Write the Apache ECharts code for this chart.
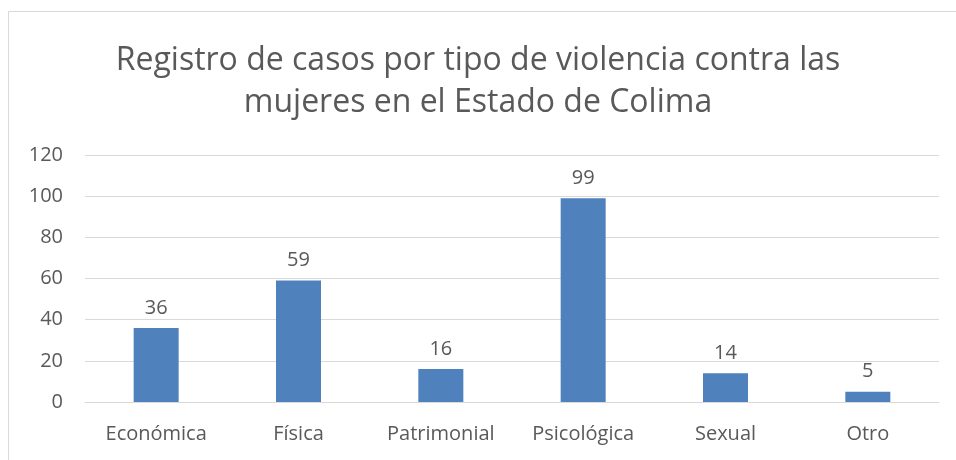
<!DOCTYPE html>
<html>
<head>
<meta charset="utf-8">
<script src="https://cdn.jsdelivr.net/npm/echarts@6/dist/echarts.min.js"></script>
<style>
  html, body { margin: 0; padding: 0; background: #fff; }
  #chart { width: 956px; height: 460px; }
</style>
</head>
<body>
<div id="chart"></div>
<script>
// Datos del gráfico
var categorias = ['Económica', 'Física', 'Patrimonial', 'Psicológica', 'Sexual', 'Otro'];
var casos = [36, 59, 16, 99, 14, 5];
var titulo = 'Registro de casos por tipo de violencia contra las\nmujeres en el Estado de Colima';

var fuente = '"Open Sans", sans-serif';
var gris = '#595959';

var chart = echarts.init(document.getElementById('chart'));
chart.setOption({
    animation: false,
    graphic: [{
        type: 'rect',
        shape: { x: 8.5, y: 11.5, width: 960, height: 460 },
        style: { fill: 'none', stroke: '#d9d9d9', lineWidth: 1 },
        silent: true
    }],
    title: {
        text: titulo,
        left: 'center',
        top: 35,
        textStyle: { fontFamily: fuente, fontSize: 32, fontWeight: 'normal', color: gris, lineHeight: 42 }
    },
    grid: { left: 85, right: 17, top: 155, bottom: 58 },
    xAxis: {
        type: 'category',
        data: categorias,
        axisLine: { show: true, lineStyle: { color: '#d9d9d9', width: 1 } },
        axisTick: { show: false },
        axisLabel: { fontFamily: fuente, fontSize: 20, color: gris, margin: 22 }
    },
    yAxis: {
        type: 'value',
        min: 0,
        max: 120,
        interval: 20,
        axisLine: { show: false },
        axisTick: { show: false },
        axisLabel: { fontFamily: fuente, fontSize: 20, color: gris, margin: 22 },
        splitLine: { lineStyle: { color: '#d9d9d9', width: 1 } }
    },
    series: [{
        type: 'bar',
        data: casos,
        barWidth: 45,
        itemStyle: { color: '#4f81bd' },
        label: {
            show: true,
            position: 'top',
            distance: 10,
            fontFamily: fuente,
            fontSize: 20,
            color: gris
        }
    }]
});
</script>
</body>
</html>
